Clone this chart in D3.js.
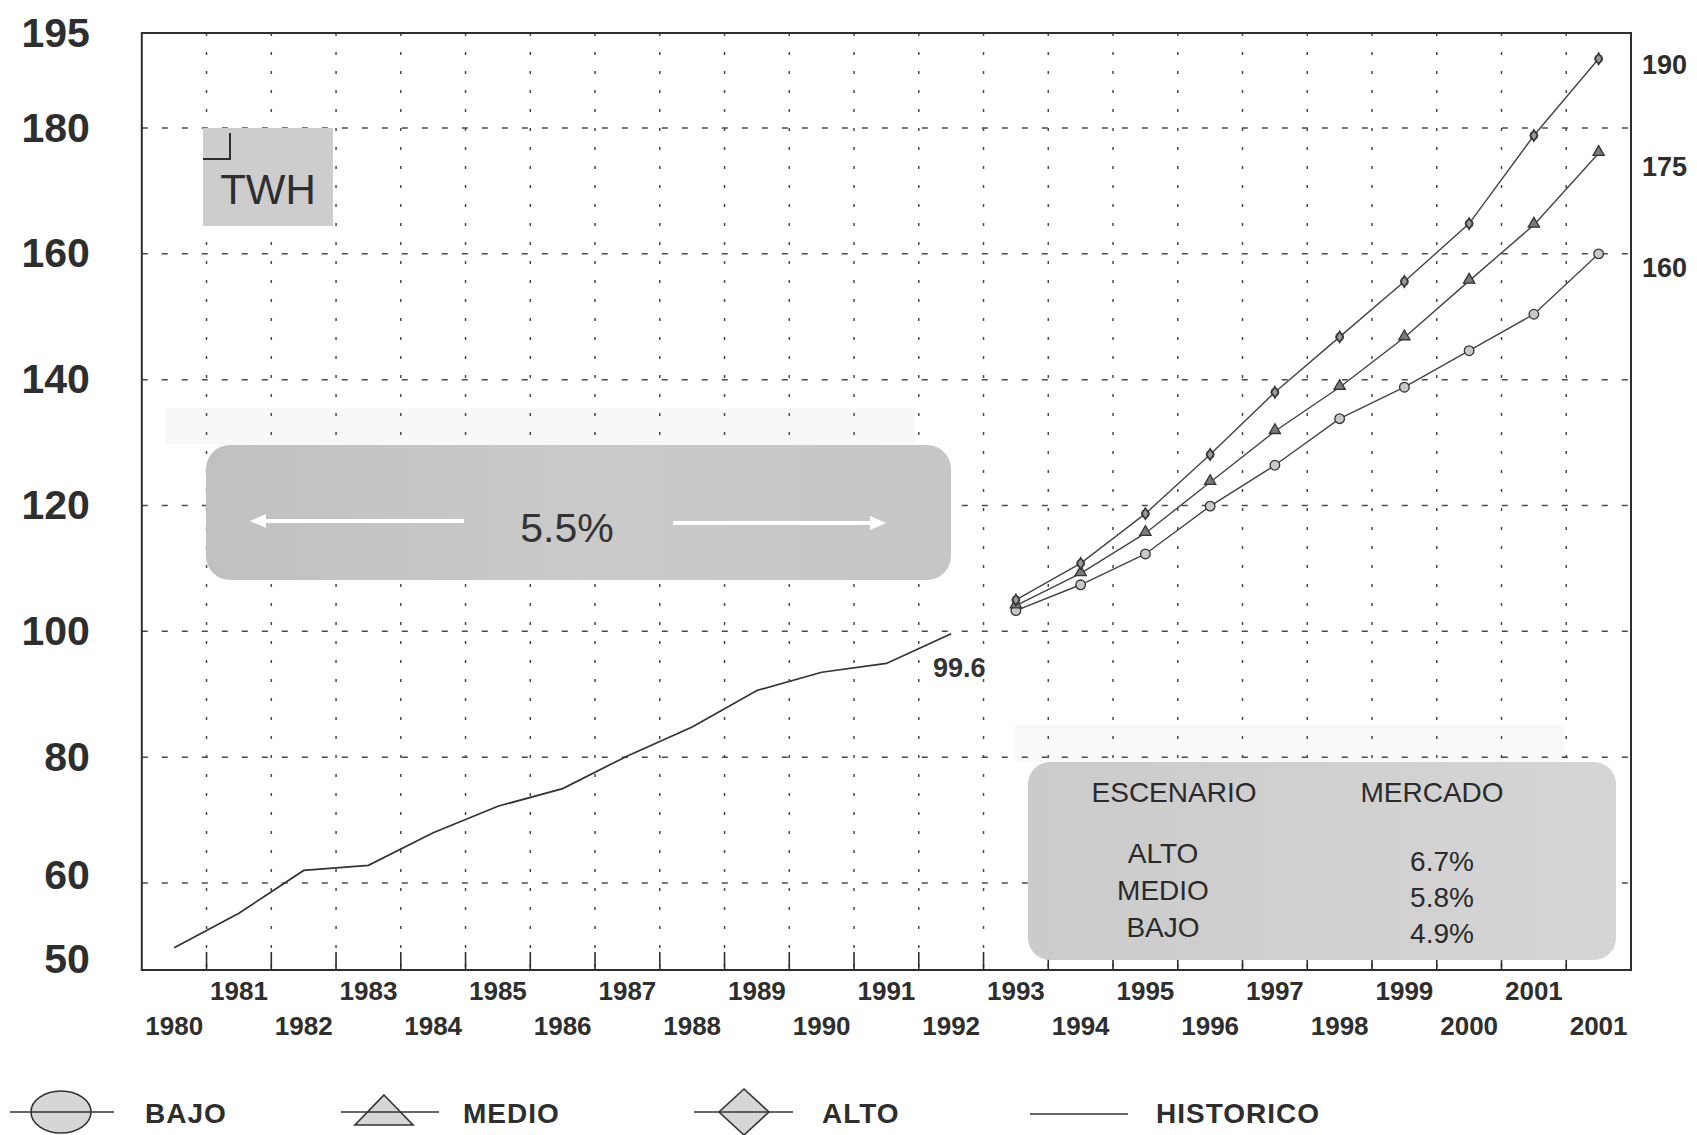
<!DOCTYPE html>
<html><head><meta charset="utf-8">
<script src="https://cdn.jsdelivr.net/npm/d3@7"></script>
<style>
body{margin:0;background:#fff;}
svg{display:block;font-family:"Liberation Sans",Arial,Helvetica,sans-serif;}
</style>
</head><body>
<svg id="chart" width="1697" height="1135"></svg>
<script>
// ---------- DATA ----------
const yearLabels = ["1980","1981","1982","1983","1984","1985","1986","1987","1988","1989","1990","1991","1992",
                    "1993","1994","1995","1996","1997","1998","1999","2000","2001","2001"];
const historico = [49.7,55.2,62.0,62.8,68.0,72.2,75.0,80.2,84.8,90.6,93.5,94.9,99.6]; // 1980-1992
const projStart = 13; // index of 1993
const alto  = [105.0,110.8,118.7,128.1,138.0,146.8,155.6,164.8,178.8,191.0];
const medio = [104.1,109.2,115.6,123.7,131.8,138.8,146.7,155.7,164.6,176.0];
const bajo  = [103.3,107.4,112.3,119.9,126.4,133.8,138.8,144.6,150.4,160.0];
const leftTicks  = [50,60,80,100,120,140,160,180,195];
const gridValues = [60,80,100,120,140,160,180];
const rightTicks = [160,175,190];
const scenarioNames = ["ALTO","MEDIO","BAJO"];
const scenarioRates = ["6.7%","5.8%","4.9%"];
const tableHeaders = ["ESCENARIO","MERCADO"];
const histRate = "5.5%";
const lastValueLabel = "99.6";
const unitLabel = "TWH";
const legendNames = ["BAJO","MEDIO","ALTO","HISTORICO"];

// ---------- LAYOUT ----------
const svg = d3.select("#chart");
const L = 141.8, R = 1631, T = 33, B = 970;
const ink = "#2e2e2e";

const x = d3.scaleBand().domain(d3.range(yearLabels.length)).range([L, R]).paddingInner(0).paddingOuter(0);
const cx = i => x(i) + x.bandwidth() / 2;
const y = d3.scaleLinear().domain([60, 180]).range([883, 128]);
const yR = d3.scaleLinear().domain([160, 190]).range([268, 65]);

// faint shadows (scan artefacts)
svg.append("rect").attr("x",165).attr("y",408).attr("width",750).attr("height",37).attr("fill","#f8f8f8");
svg.append("rect").attr("x",1015).attr("y",725).attr("width",550).attr("height",37).attr("fill","#f9f9f9");

// grid: vertical dotted
const grid = svg.append("g").attr("stroke","#4a4a4a").attr("stroke-width",1.5);
grid.selectAll("line.v").data(d3.range(1, yearLabels.length)).join("line")
  .attr("x1", i => x(i)).attr("x2", i => x(i)).attr("y1", T).attr("y2", B)
  .attr("stroke-dasharray","3,16");
// grid: horizontal dashed
grid.selectAll("line.h").data(gridValues).join("line")
  .attr("x1", L).attr("x2", R).attr("y1", d => y(d)).attr("y2", d => y(d))
  .attr("stroke-dasharray","6,14");
// bottom small ticks
svg.append("g").attr("stroke",ink).attr("stroke-width",1.6)
  .selectAll("line").data(d3.range(1, yearLabels.length)).join("line")
  .attr("x1", i => x(i)).attr("x2", i => x(i)).attr("y1", B).attr("y2", B - 18);

// ---------- annotation boxes ----------
const defs = svg.append("defs");
// TWH box
svg.append("rect").attr("x",203).attr("y",128).attr("width",130).attr("height",98).attr("fill","#cdcdcd");
svg.append("path").attr("d","M203,159 H230 V133").attr("fill","none").attr("stroke",ink).attr("stroke-width",2);
svg.append("text").attr("x",268).attr("y",204).attr("text-anchor","middle")
  .attr("font-size",42).attr("fill",ink).text(unitLabel);

// 5.5% box
const lg = defs.append("linearGradient").attr("id","g1").attr("x1","0").attr("x2","1").attr("y1","0").attr("y2","0");
lg.append("stop").attr("offset","0").attr("stop-color","#c0c0c0");
lg.append("stop").attr("offset","0.5").attr("stop-color","#cacaca");
lg.append("stop").attr("offset","1").attr("stop-color","#c6c6c6");
svg.append("rect").attr("x",206).attr("y",445).attr("width",745).attr("height",135)
  .attr("rx",24).attr("fill","url(#g1)");
svg.append("text").attr("x",567).attr("y",542).attr("text-anchor","middle")
  .attr("font-size",41).attr("fill","#333").text(histRate);
const arrowG = svg.append("g").attr("stroke","#fff").attr("stroke-width",4).attr("fill","#fff");
arrowG.append("line").attr("x1",464).attr("x2",262).attr("y1",521).attr("y2",521);
arrowG.append("path").attr("d","M250,521 L266,514 L266,528 Z").attr("stroke","none");
arrowG.append("line").attr("x1",673).attr("x2",873).attr("y1",523).attr("y2",523);
arrowG.append("path").attr("d","M886,523 L870,516 L870,530 Z").attr("stroke","none");

// scenario table box
const lg2 = defs.append("linearGradient").attr("id","g2").attr("x1","0").attr("x2","1").attr("y1","0").attr("y2","0");
lg2.append("stop").attr("offset","0").attr("stop-color","#cbcbcb");
lg2.append("stop").attr("offset","1").attr("stop-color","#d5d5d5");
svg.append("rect").attr("x",1028).attr("y",762).attr("width",588).attr("height",198)
  .attr("rx",22).attr("fill","url(#g2)");
const tbl = svg.append("g").attr("font-size",28).attr("fill","#2a2a2a").attr("text-anchor","middle");
tbl.append("text").attr("x",1174).attr("y",802).text(tableHeaders[0]);
tbl.append("text").attr("x",1432).attr("y",802).text(tableHeaders[1]);
const rowY = [863, 900, 937];
const rateY = [871, 907, 943];
tbl.selectAll("text.n").data(scenarioNames).join("text").attr("class","n")
  .attr("x",1163).attr("y",(d,i)=>rowY[i]).text(d=>d);
tbl.selectAll("text.r").data(scenarioRates).join("text").attr("class","r")
  .attr("x",1442).attr("y",(d,i)=>rateY[i]).text(d=>d);

// ---------- lines ----------
const line = d3.line().x(d => cx(d.i)).y(d => y(d.v));
const histData = historico.map((v,i)=>({i, v}));
svg.append("path").datum(histData).attr("d", line).attr("fill","none")
  .attr("stroke","#333").attr("stroke-width",1.7);

const proj = (arr) => arr.map((v,k)=>({i: projStart + k, v}));
const series = [
  {name:"ALTO", data: proj(alto)},
  {name:"MEDIO", data: proj(medio)},
  {name:"BAJO", data: proj(bajo)}
];
series.forEach(s => {
  svg.append("path").datum(s.data).attr("d", line).attr("fill","none")
    .attr("stroke","#444").attr("stroke-width",1.4);
});
// markers
const mk = svg.append("g").attr("stroke","#333").attr("stroke-width",1.3);
mk.selectAll("circle.b").data(series[2].data).join("circle")
  .attr("cx", d=>cx(d.i)).attr("cy", d=>y(d.v)).attr("r",4.8).attr("fill","#c8c8c8");
mk.selectAll("path.m").data(series[1].data).join("path")
  .attr("transform", d=>`translate(${cx(d.i)},${y(d.v)-1})`)
  .attr("d", d3.symbol(d3.symbolTriangle, 55)).attr("fill","#7a7a7a");
mk.selectAll("path.a").data(series[0].data).join("path")
  .attr("transform", d=>`translate(${cx(d.i)},${y(d.v)})`)
  .attr("d", d3.symbol(d3.symbolDiamond, 40)).attr("fill","#9a9a9a");
mk.selectAll("circle.a").data(series[0].data).join("circle")
  .attr("cx", d=>cx(d.i)).attr("cy", d=>y(d.v)).attr("r",4).attr("fill","none").attr("stroke-width",1);

// last historic value label
svg.append("text").attr("x",933).attr("y",677).attr("font-size",27).attr("font-weight","bold")
  .attr("fill","#333").text(lastValueLabel);

// ---------- frame ----------
svg.append("rect").attr("x",L).attr("y",T).attr("width",R-L).attr("height",B-T)
  .attr("fill","none").attr("stroke",ink).attr("stroke-width",2);

// ---------- axes ----------
const labelShift = {50: 13, 60: -8};
const axL = svg.append("g").attr("transform",`translate(${L},0)`)
  .call(d3.axisLeft(y).tickValues(leftTicks).tickSize(0).tickPadding(52).tickFormat(d3.format("d")));
axL.select(".domain").remove();
axL.selectAll("text").attr("font-size",41).attr("font-weight","bold").attr("fill",ink)
  .attr("font-family","Liberation Sans, Arial, sans-serif")
  .attr("y", d => labelShift[d] || 0);

const axR = svg.append("g").attr("transform",`translate(${R},0)`)
  .call(d3.axisRight(yR).tickValues(rightTicks).tickSize(0).tickPadding(11).tickFormat(d3.format("d")));
axR.select(".domain").remove();
axR.selectAll("text").attr("font-size",27).attr("font-weight","bold").attr("fill",ink)
  .attr("font-family","Liberation Sans, Arial, sans-serif");

const axB = svg.append("g").attr("transform",`translate(0,${B})`)
  .call(d3.axisBottom(x).tickSize(0).tickFormat(i => yearLabels[i]));
axB.select(".domain").remove();
axB.selectAll("text").attr("font-size",26).attr("font-weight","bold").attr("fill",ink)
  .attr("font-family","Liberation Sans, Arial, sans-serif")
  .attr("dy",null).attr("y", i => (i % 2 === 1) ? 30 : 65);

// ---------- legend ----------
const lgd = svg.append("g").attr("stroke","#333").attr("stroke-width",1.6);
const ly = 1112;
// BAJO
lgd.append("ellipse").attr("cx",61).attr("cy",ly).attr("rx",30).attr("ry",21).attr("fill","#d6d6d6");
lgd.append("line").attr("x1",10).attr("x2",114).attr("y1",ly).attr("y2",ly);
// MEDIO
lgd.append("path").attr("d",`M384,${ly-17} L413,${ly+13} L355,${ly+13} Z`).attr("fill","#d6d6d6");
lgd.append("line").attr("x1",341).attr("x2",439).attr("y1",ly).attr("y2",ly);
// ALTO
lgd.append("path").attr("d",`M744,${ly-23} L769,${ly} L744,${ly+23} L719,${ly} Z`).attr("fill","#d6d6d6");
lgd.append("line").attr("x1",694).attr("x2",793).attr("y1",ly).attr("y2",ly);
// HISTORICO
lgd.append("line").attr("x1",1030).attr("x2",1128).attr("y1",ly+2).attr("y2",ly+2);
const legendX = [145, 463, 822, 1156];
svg.append("g").selectAll("text").data(legendNames).join("text")
  .attr("x",(d,i)=>legendX[i]).attr("y",ly+11).attr("font-size",28).attr("font-weight","bold")
  .attr("fill",ink).attr("letter-spacing",1).text(d=>d);
</script>
</body></html>
